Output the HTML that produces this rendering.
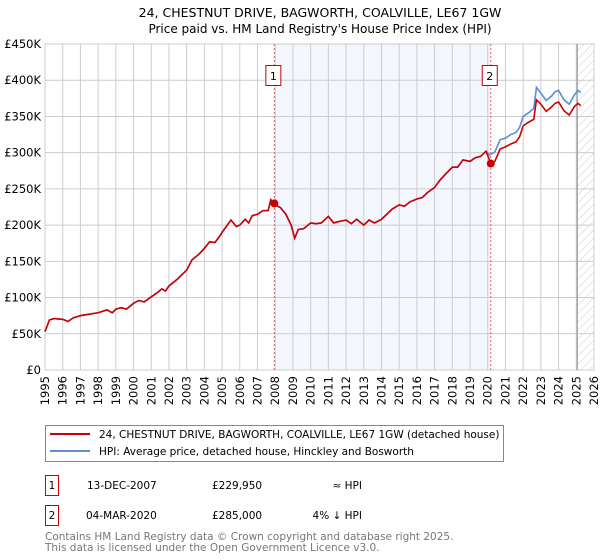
<!DOCTYPE html>
<html><head><meta charset="utf-8"><style>
body{margin:0;background:#fff;}
svg{font-family:"DejaVu Sans","Liberation Sans",sans-serif;display:block;}
</style></head><body>
<svg id="c" width="600" height="560" viewBox="0 0 600 560" xmlns="http://www.w3.org/2000/svg">
<text x="320" y="17" text-anchor="middle" font-size="12.5">24, CHESTNUT DRIVE, BAGWORTH, COALVILLE, LE67 1GW</text>
<text x="320" y="33" text-anchor="middle" font-size="12">Price paid vs. HM Land Registry's House Price Index (HPI)</text>
<g id="plot"></g>
<g>
<rect x="45.5" y="425.5" width="458" height="36" fill="#fff" stroke="#888"/>
<line x1="50" y1="434" x2="90" y2="434" stroke="#cc0000" stroke-width="2"/>
<text x="99" y="438" font-size="10.5">24, CHESTNUT DRIVE, BAGWORTH, COALVILLE, LE67 1GW (detached house)</text>
<line x1="50" y1="451" x2="90" y2="451" stroke="#5b8ed6" stroke-width="2"/>
<text x="99" y="455" font-size="10.5">HPI: Average price, detached house, Hinckley and Bosworth</text>
</g>
<g font-size="10.5">
<rect x="45.5" y="475.5" width="13" height="20" fill="#fff" stroke="#cc0000"/>
<text x="52" y="489" text-anchor="middle">1</text>
<text x="87" y="489">13-DEC-2007</text>
<text x="212" y="489">£229,950</text>
<text x="362" y="489" text-anchor="end">≈ HPI</text>
<rect x="45.5" y="505.5" width="13" height="20" fill="#fff" stroke="#cc0000"/>
<text x="52" y="519" text-anchor="middle">2</text>
<text x="86" y="519">04-MAR-2020</text>
<text x="212" y="519">£285,000</text>
<text x="362" y="519" text-anchor="end">4% ↓ HPI</text>
</g>
<text x="45" y="540" font-size="10.5" fill="#777">Contains HM Land Registry data © Crown copyright and database right 2025.</text>
<text x="45" y="551" font-size="10.5" fill="#777">This data is licensed under the Open Government Licence v3.0.</text>
</svg>
<script>
const hpiYears=[1995.0,1995.25,1995.5,1996.0,1996.3,1996.6,1997.0,1997.5,1998.0,1998.5,1998.8,1999.0,1999.3,1999.6,2000.0,2000.3,2000.6,2001.0,2001.3,2001.6,2001.8,2002.0,2002.5,2003.0,2003.3,2003.7,2004.0,2004.3,2004.6,2004.9,2005.0,2005.5,2005.8,2006.0,2006.3,2006.5,2006.7,2007.0,2007.3,2007.6,2007.75,2008.0,2008.3,2008.6,2008.9,2009.1,2009.3,2009.6,2010.0,2010.3,2010.6,2011.0,2011.3,2011.6,2012.0,2012.3,2012.6,2013.0,2013.3,2013.6,2014.0,2014.3,2014.6,2015.0,2015.3,2015.6,2016.0,2016.3,2016.6,2017.0,2017.3,2017.6,2018.0,2018.3,2018.6,2019.0,2019.3,2019.6,2019.9,2020.1,2020.4,2020.7,2021.0,2021.3,2021.6,2021.8,2022.0,2022.3,2022.6,2022.75,2023.0,2023.3,2023.6,2023.8,2024.0,2024.3,2024.6,2024.9,2025.1,2025.25];
const hpiValues=[53,69,71,70,67,72,75,77,79,83,79,84,86,84,92,96,94,101,106,112,109,116,126,138,152,160,168,177,176,186,190,207,198,200,208,203,213,215,220,220,235,228,224,215,200,182,194,195,203,202,203,212,203,205,207,202,208,200,207,203,208,215,222,228,226,232,236,238,245,252,262,270,280,280,290,288,293,295,302,297,301,318,320,325,328,335,350,355,361,390,382,372,378,384,386,373,367,380,386,383];
const redYears=[1995.0,1995.25,1995.5,1996.0,1996.3,1996.6,1997.0,1997.5,1998.0,1998.5,1998.8,1999.0,1999.3,1999.6,2000.0,2000.3,2000.6,2001.0,2001.3,2001.6,2001.8,2002.0,2002.5,2003.0,2003.3,2003.7,2004.0,2004.3,2004.6,2004.9,2005.0,2005.5,2005.8,2006.0,2006.3,2006.5,2006.7,2007.0,2007.3,2007.6,2007.75,2008.0,2008.3,2008.6,2008.9,2009.1,2009.3,2009.6,2010.0,2010.3,2010.6,2011.0,2011.3,2011.6,2012.0,2012.3,2012.6,2013.0,2013.3,2013.6,2014.0,2014.3,2014.6,2015.0,2015.3,2015.6,2016.0,2016.3,2016.6,2017.0,2017.3,2017.6,2018.0,2018.3,2018.6,2019.0,2019.3,2019.6,2019.9,2020.1,2020.17,2020.4,2020.7,2021.0,2021.3,2021.6,2021.8,2022.0,2022.3,2022.6,2022.75,2023.0,2023.3,2023.6,2023.8,2024.0,2024.3,2024.6,2024.9,2025.1,2025.25];
const redValues=[53,69,71,70,67,72,75,77,79,83,79,84,86,84,92,96,94,101,106,112,109,116,126,138,152,160,168,177,176,186,190,207,198,200,208,203,213,215,220,220,235,228,224,215,200,182,194,195,203,202,203,212,203,205,207,202,208,200,207,203,208,215,222,228,226,232,236,238,245,252,262,270,280,280,290,288,293,295,302,290,285,288,305,308,312,315,322,337,342,346,373,367,357,363,368,370,358,352,364,368,365];
const saleYears=[2007.95,2020.17];
const saleValues=[229.95,285];
const saleLabels=["1","2"];
const yTicks=[0,50,100,150,200,250,300,350,400,450];
const xTicks=[1995,1996,1997,1998,1999,2000,2001,2002,2003,2004,2005,2006,2007,2008,2009,2010,2011,2012,2013,2014,2015,2016,2017,2018,2019,2020,2021,2022,2023,2024,2025,2026];

const NS="http://www.w3.org/2000/svg";
const L=45,R=594,T=44,B=370,X0=1995,X1=2026,YMAX=450;
const xs=v=>L+(v-X0)/(X1-X0)*(R-L);
const ys=v=>B-v/YMAX*(B-T);
const g=document.getElementById('plot');
function mk(tag,at,parent){const e=document.createElementNS(NS,tag);for(const k in at)e.setAttribute(k,at[k]);(parent||g).appendChild(e);return e;}

// shaded period between sales
const shade=mk('rect',{x:xs(saleYears[0]),y:T,width:xs(saleYears[1])-xs(saleYears[0]),height:B-T,fill:'#eef2fc',opacity:0.7});


// hatch for future
const defs=mk('defs',{});
const pat=mk('pattern',{id:'hatch',width:6,height:6,patternUnits:'userSpaceOnUse',patternTransform:'rotate(45)'},defs);
mk('line',{x1:0,y1:0,x2:0,y2:6,stroke:'#ccc','stroke-width':1},pat);
const hatch=mk('rect',{x:xs(2025.05),y:T,width:R-xs(2025.05),height:B-T,fill:'url(#hatch)'});



yTicks.forEach(t=>{
  const ln=mk('line',{x1:L,x2:R,y1:ys(t),y2:ys(t),stroke:'#ccc','stroke-width':1});
  
  
  const tx=mk('text',{x:L-4,y:ys(t)+4,'text-anchor':'end','font-size':11.5});
  
  
  tx.textContent=t===0?'£0':'£'+t+'K';
});
xTicks.forEach(t=>{
  const ln=mk('line',{x1:xs(t),x2:xs(t),y1:T,y2:B,stroke:'#ccc','stroke-width':1});
  
  
  const tx=mk('text',{x:0,y:0,'text-anchor':'end','font-size':11.5,transform:`translate(${xs(t)+4},${B+6}) rotate(-90)`});
  
  
  tx.textContent=t;
});
const frame=mk('rect',{x:L,y:T,width:R-L,height:B-T,fill:'none',stroke:'#ccc'});


const cut=mk('line',{x1:xs(2025.05),x2:xs(2025.05),y1:T,y2:B,stroke:'#888','stroke-width':1});



saleYears.forEach((y,i)=>{
  const ln=mk('line',{x1:xs(y),x2:xs(y),y1:T,y2:B,stroke:'#e06060','stroke-dasharray':'2,2','stroke-width':1});
  
  
  const bx=mk('rect',{x:xs(y)-8.5,y:65.5,width:15,height:20,fill:'#fff',stroke:'#cc0000'});
  
  
  const tx=mk('text',{x:xs(y)-1,y:80,'text-anchor':'middle','font-size':11});
  
  
  tx.textContent=saleLabels[i];
});

const hp=mk('polyline',{points:hpiYears.map((y,i)=>xs(y)+','+ys(hpiValues[i])).join(' '),fill:'none',stroke:'#5b8ed6','stroke-width':1.6});


const rp=mk('polyline',{points:redYears.map((y,i)=>xs(y)+','+ys(redValues[i])).join(' '),fill:'none',stroke:'#cc0000','stroke-width':1.6});


saleYears.forEach((y,i)=>{
  const c=mk('circle',{cx:xs(y),cy:ys(saleValues[i]),r:4,fill:'#cc0000'});
  
  
});
</script>
</body></html>
